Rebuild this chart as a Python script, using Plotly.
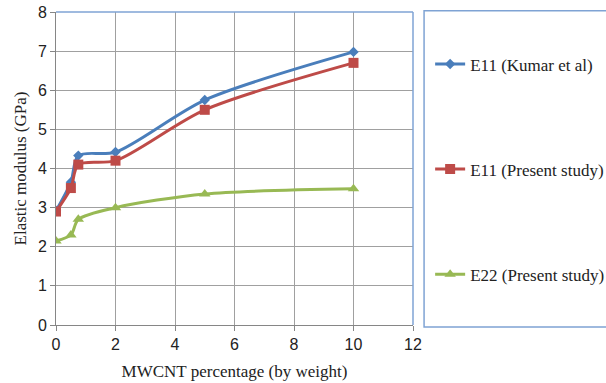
import plotly.graph_objects as go

x_vals = [0, 0.5, 0.75, 2, 5, 10]
e11_kumar = [2.92, 3.65, 4.33, 4.42, 5.75, 6.98]
e11_present = [2.9, 3.5, 4.1, 4.2, 5.5, 6.7]
e22_present = [2.15, 2.3, 2.7, 3.0, 3.35, 3.48]
names = ["E11 (Kumar et al)", "E11 (Present study)", "E22 (Present study)"]
colors = ["#4A7EBB", "#BE4B48", "#98B954"]
symbols = ["diamond", "square", "triangle-up"]
sizes = [8, 10, 10]

fig = go.Figure()
for i, ys in enumerate([e11_kumar, e11_present, e22_present]):
    fig.add_trace(go.Scatter(
        x=x_vals, y=ys, name=names[i], mode="lines+markers",
        line=dict(color=colors[i], width=3, shape="spline", smoothing=0.8),
        marker=dict(symbol=symbols[i], size=sizes[i], color=colors[i]),
        legendgroup=str(i),
    ))

border = "#7FA3D4"
serif = "Liberation Serif"
fig.update_layout(
    width=606, height=383,
    margin=dict(l=56, r=193, t=12, b=58, autoexpand=False),
    paper_bgcolor="white", plot_bgcolor="white",
    showlegend=True,
    legend=dict(x=1.048, y=0.497, xanchor="left", yanchor="middle",
                font=dict(family=serif, size=17, color="#222"),
                tracegroupgap=80, bgcolor="rgba(0,0,0,0)"),
    xaxis=dict(range=[0, 12], tickvals=[0, 2, 4, 6, 8, 10, 12],
               showgrid=True, gridcolor="#A0A0A0", gridwidth=1,
               showline=True, linecolor="#868686", linewidth=1,
               ticks="outside", ticklen=5, tickcolor="#868686",
               zeroline=False, automargin=False,
               tickfont=dict(family="Liberation Sans", size=16, color="#222"),
               title=dict(text="MWCNT percentage (by weight)", standoff=12,
                          font=dict(family=serif, size=17, color="#222"))),
    yaxis=dict(range=[0, 8], tickvals=list(range(0, 9)),
               showgrid=True, gridcolor="#A0A0A0", gridwidth=1,
               showline=True, linecolor="#868686", linewidth=1,
               ticks="outside", ticklen=5, tickcolor="#868686",
               zeroline=False, automargin=False,
               tickfont=dict(family="Liberation Sans", size=16, color="#222"),
               title=dict(text="Elastic modulus (GPa)", standoff=6,
                          font=dict(family=serif, size=17, color="#222"))),
    shapes=[
        dict(type="line", xref="paper", yref="paper", x0=0, x1=1, y0=1, y1=1,
             line=dict(color=border, width=1.5)),
        dict(type="line", xref="paper", yref="paper", x0=1, x1=1, y0=0, y1=1,
             line=dict(color=border, width=1.5)),
        dict(type="rect", xref="paper", yref="paper", x0=1.031, x1=1.7, y0=-0.006, y1=1.004,
             line=dict(color=border, width=1.5)),
    ],
)

fig.write_html("out.html")
